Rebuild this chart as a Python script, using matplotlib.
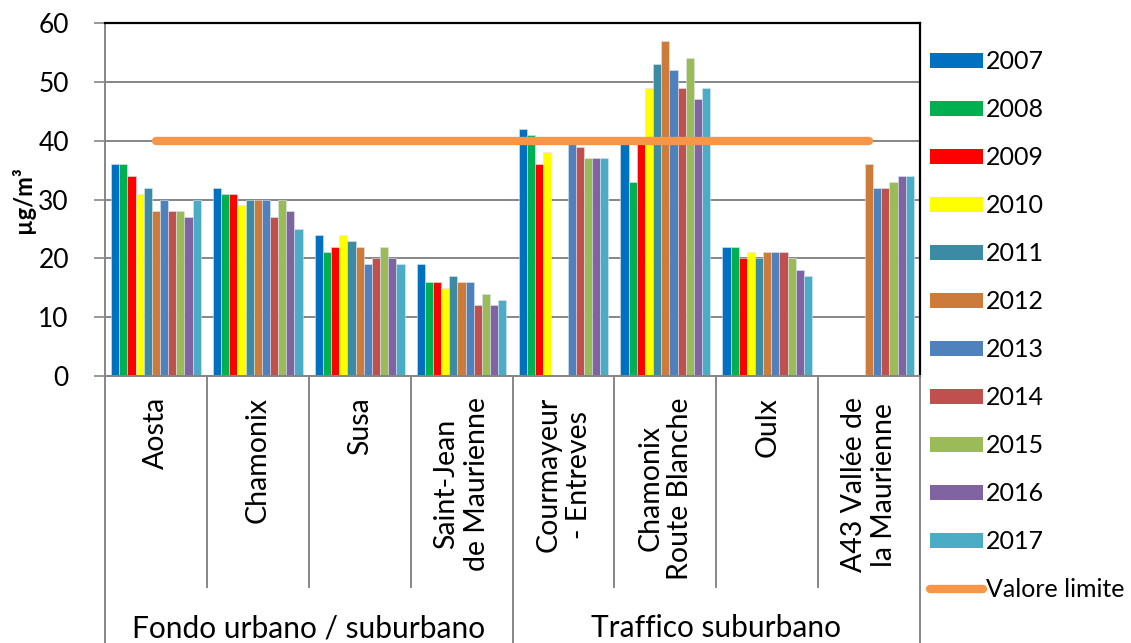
import numpy as np
import matplotlib
matplotlib.use("Agg")
import matplotlib.pyplot as plt
from matplotlib.lines import Line2D
from matplotlib.patches import Patch

plt.rcParams["font.family"] = ["Lato", "DejaVu Sans"]

stations = ["Aosta", "Chamonix", "Susa", "Saint-Jean\nde Maurienne",
            "Courmayeur\n- Entreves", "Chamonix\nRoute Blanche", "Oulx",
            "A43 Vallée de\nla Maurienne"]
groups = ["Fondo urbano / suburbano", "Traffico suburbano"]
years = ["2007", "2008", "2009", "2010", "2011", "2012",
         "2013", "2014", "2015", "2016", "2017"]
nan = np.nan
# one row per station, one column per year (µg/m³)
values = [
    [36, 36, 34, 31, 32, 28, 30, 28, 28, 27, 30],
    [32, 31, 31, 29, 30, 30, 30, 27, 30, 28, 25],
    [24, 21, 22, 24, 23, 22, 19, 20, 22, 20, 19],
    [19, 16, 16, 15, 17, 16, 16, 12, 14, 12, 13],
    [42, 41, 36, 38, nan, nan, 40, 39, 37, 37, 37],
    [40, 33, 40, 49, 53, 57, 52, 49, 54, 47, 49],
    [22, 22, 20, 21, 20, 21, 21, 21, 20, 18, 17],
    [nan, nan, nan, nan, nan, 36, 32, 32, 33, 34, 34],
]
limit = [40] * len(stations)

colors = ["#0070C0", "#00B050", "#FF0000", "#FFFF00", "#3C8AA3", "#CD7B3A",
          "#4F81BD", "#C0504D", "#9BBB59", "#8064A2", "#4BACC6"]
limit_color = "#F79646"

fig = plt.figure(figsize=(11.31, 6.43), dpi=100)
ax = fig.add_axes([105 / 1131, 1 - 376 / 643, 815 / 1131, 353 / 643])

data = np.array(values, dtype=float)
x = np.arange(len(stations))
bw = 0.08
for j, yr in enumerate(years):
    off = (j - (len(years) - 1) / 2) * bw
    ax.bar(x + off, data[:, j], width=bw, color=colors[j],
           edgecolor="#dce6f0", linewidth=0.4, zorder=2, label=yr)

ax.plot(x, limit, color=limit_color, lw=6, solid_capstyle="round", zorder=3)

ax.set_xlim(-0.5, len(stations) - 0.5)
ax.set_ylim(0, 60)
ax.set_yticks(range(0, 61, 10))
ax.yaxis.grid(True, color="#868686", lw=1.4, zorder=0)
ax.set_axisbelow(True)
ax.set_xticks([])
ax.tick_params(axis="y", length=8, width=1.2, color="#868686", pad=18,
               labelsize=19)
for s in ["left", "bottom"]:
    ax.spines[s].set_color("#868686")
    ax.spines[s].set_linewidth(1.4)
for s in ["top", "right"]:
    ax.spines[s].set_color("black")
    ax.spines[s].set_linewidth(1.6)

ax.set_ylabel("µg/m³", fontsize=17, fontweight="bold", labelpad=2)

# two-level category axis
sep_low = -(587 - 376) / 353
fig_bottom = -(643 - 376) / 353
tr = ax.get_xaxis_transform()
for i in range(len(stations) + 1):
    yb = fig_bottom if i % 4 == 0 else sep_low
    ax.add_line(Line2D([i - 0.5, i - 0.5], [0, yb], transform=tr,
                       color="#868686", lw=1.4, clip_on=False))
for i, name in enumerate(stations):
    ax.text(i, -0.06, name, transform=tr, rotation=90, ha="center",
            va="top", multialignment="center", fontsize=20.5,
            linespacing=1.2)
for k, g in enumerate(groups):
    ax.text(k * 4 + 1.5, -0.715, g, transform=tr, ha="center",
            va="center", fontsize=21.5)

handles = [Patch(facecolor=c, edgecolor="none") for c in colors]
handles.append(Line2D([], [], color=limit_color, lw=6,
                      solid_capstyle="round"))
fig.legend(handles, years + ["Valore limite"], loc="upper left",
           bbox_to_anchor=(920 / 1131, 1 - 40 / 643), frameon=False,
           fontsize=18, handlelength=2.1, handleheight=0.55,
           handletextpad=0.15, labelspacing=1.0, borderaxespad=0)

fig.savefig("out.png", dpi=100)
